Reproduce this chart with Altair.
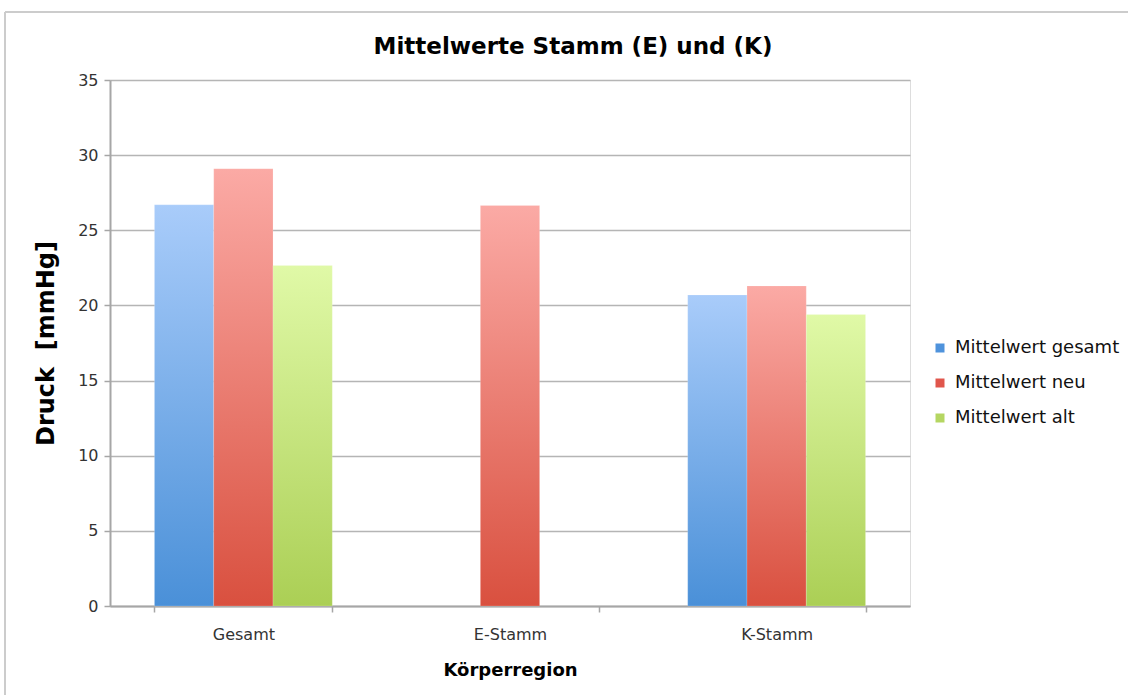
import altair as alt
import pandas as pd

# Categories, series and mean pressure values (mmHg)
categories = ["Gesamt", "E-Stamm", "K-Stamm"]
series = ["Mittelwert gesamt", "Mittelwert neu", "Mittelwert alt"]
mw_gesamt = [26.7, None, 20.7]
mw_neu = [29.1, 26.65, 21.3]
mw_alt = [22.65, None, 19.4]
y_ticks = [0, 5, 10, 15, 20, 25, 30, 35]

# Gradient colours per series (top, bottom) and solid legend colours
grad_colors = {
    "Mittelwert gesamt": ("#a9ccfa", "#4a90d8"),
    "Mittelwert neu": ("#fbaaa5", "#d9503f"),
    "Mittelwert alt": ("#e0f9a7", "#abcf55"),
}
legend_colors = ["#4f93dc", "#e0564c", "#b5d662"]

rows = []
for s, vals in zip(series, [mw_gesamt, mw_neu, mw_alt]):
    for c, v in zip(categories, vals):
        rows.append({"Region": c, "Serie": s, "Wert": v})
df = pd.DataFrame(rows)

FONT = "DejaVu Sans"

x_enc = alt.X(
    "Region:N",
    sort=categories,
    scale=alt.Scale(paddingInner=0.333, paddingOuter=0.1667),
    axis=alt.Axis(
        title="Körperregion",
        titleFont=FONT,
        titleFontSize=18,
        titleFontWeight="bold",
        titleColor="#000000",
        titleY=64,
        titleBaseline="middle",
        labelFont=FONT,
        labelFontSize=16,
        labelColor="#333333",
        labelAngle=0,
        labelPadding=14,
        labelBaseline="top",
        tickBand="extent",
        tickSize=6,
        tickColor="#a6a6a6",
        tickWidth=1.5,
        domainColor="#a6a6a6",
        domainWidth=2,
        grid=False,
    ),
)
xoff_enc = alt.XOffset(
    "Serie:N", sort=series, scale=alt.Scale(domain=series, paddingInner=0, paddingOuter=0)
)
y_enc = alt.Y(
    "Wert:Q",
    scale=alt.Scale(domain=[0, 35], nice=False),
    axis=alt.Axis(
        title="Druck \u00a0[mmHg]",
        titleFont=FONT,
        titleFontSize=24,
        titleFontWeight="bold",
        titleColor="#000000",
        titleX=-64,
        titleY=263,
        titleAngle=270,
        titleAlign="center",
        titleBaseline="middle",
        values=y_ticks,
        labelFont=FONT,
        labelFontSize=16,
        labelColor="#333333",
        labelPadding=6,
        tickSize=6,
        tickColor="#a6a6a6",
        tickWidth=1.5,
        domainColor="#a6a6a6",
        domainWidth=2,
        grid=True,
        gridColor="#b5b5b5",
        gridWidth=1.5,
    ),
)

base = alt.Chart(df)

# Invisible bars that carry the colour legend
legend_layer = base.mark_bar(opacity=0).encode(
    x=x_enc,
    xOffset=xoff_enc,
    y=y_enc,
    color=alt.Color(
        "Serie:N",
        sort=series,
        scale=alt.Scale(domain=series, range=legend_colors),
        legend=alt.Legend(
            title=None,
            orient="none",
            legendX=821,
            legendY=259,
            symbolType="square",
            symbolSize=81,
            symbolOpacity=1,
            symbolStrokeWidth=0,
            labelFont=FONT,
            labelFontSize=18,
            labelColor="#111111",
            labelOffset=6,
            labelLimit=300,
            rowPadding=17,
        ),
    ),
)

# Bars with vertical gradient fill, one layer per series
bar_layers = []
for s in series:
    top, bottom = grad_colors[s]
    bar_layers.append(
        base.transform_filter(alt.datum.Serie == s)
        .mark_bar(
            fill=alt.Gradient(
                gradient="linear",
                x1=0, y1=0, x2=0, y2=1,
                stops=[
                    alt.GradientStop(offset=0, color=top),
                    alt.GradientStop(offset=1, color=bottom),
                ],
            ),
            stroke="#ffffff",
            strokeOpacity=0.35,
            strokeWidth=0.5,
        )
        .encode(x=x_enc, xOffset=xoff_enc, y=y_enc)
    )

# Light frame around the chart
frame_top = alt.Chart().mark_rule(color="#cccccc", strokeWidth=2).encode(
    x=alt.value(-105), x2=alt.value(1030), y=alt.value(-68)
)
frame_left = alt.Chart().mark_rule(color="#cccccc", strokeWidth=2).encode(
    x=alt.value(-105), y=alt.value(-68), y2=alt.value(620)
)

chart = (
    alt.layer(legend_layer, *bar_layers, frame_top, frame_left)
    .properties(
        width=800,
        height=526,
        title=alt.TitleParams(
            text="Mittelwerte Stamm (E) und (K)",
            font=FONT,
            fontSize=23,
            fontWeight="bold",
            color="#000000",
            anchor="middle",
            frame="group",
            baseline="alphabetic",
            dx=63,
            dy=88,
            offset=22,
        ),
        padding={"left": 110, "top": 80, "right": 218, "bottom": 89},
        autosize=alt.AutoSizeParams(type="none"),
    )
    .configure_view(stroke=None)
    .configure(background="#ffffff")
)

chart.save("out.html", embed_options={"renderer": "svg", "actions": False})
